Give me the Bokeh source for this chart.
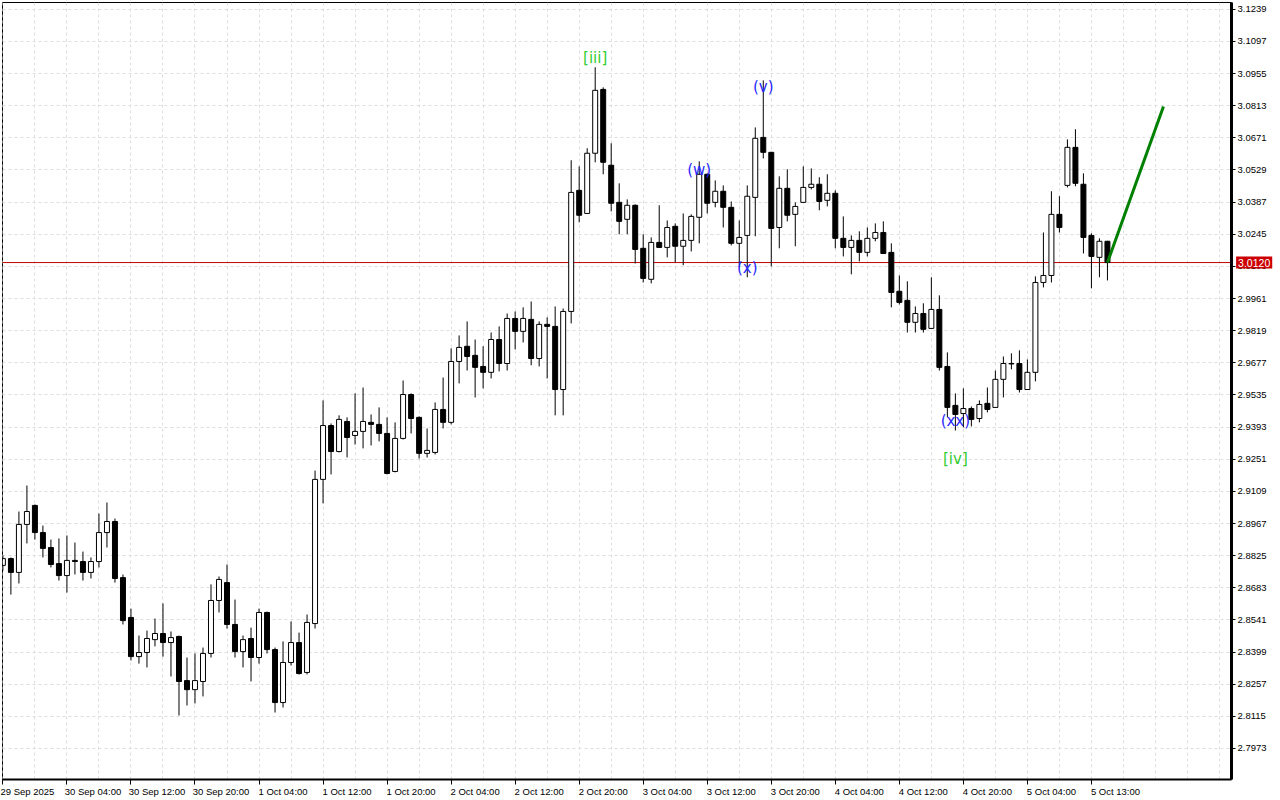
from bokeh.plotting import figure
from bokeh.models import (Range1d, FixedTicker, PrintfTickFormatter,
                          Span, ColumnDataSource)
from bokeh.core.properties import value
from bokeh.embed import file_html
from bokeh.resources import INLINE

# ---------------- data (hourly candles) ----------------
opens = [
    2.8782, 2.8812, 2.8751, 2.8963, 2.9047, 2.8927, 2.8861, 2.8790, 2.8737, 2.8804,
    2.8799, 2.8751, 2.8799, 2.8927, 2.8976, 2.8728, 2.8552, 2.8379, 2.8397, 2.8454,
    2.8481, 2.8441, 2.8468, 2.8273, 2.8233, 2.8269, 2.8393, 2.8627, 2.8706, 2.8521,
    2.8401, 2.8459, 2.8375, 2.8574, 2.8410, 2.8176, 2.8353, 2.8441, 2.8309, 2.8525,
    2.9162, 2.9400, 2.9285, 2.9418, 2.9356, 2.9374, 2.9414, 2.9405, 2.9365, 2.9197,
    2.9343, 2.9537, 2.9436, 2.9277, 2.9281, 2.9471, 2.9414, 2.9683, 2.9750, 2.9710,
    2.9661, 2.9635, 2.9780, 2.9674, 2.9873, 2.9816, 2.9869, 2.9696, 2.9847, 2.9838,
    2.9559, 2.9904, 3.0439, 3.0337, 3.0603, 3.0885, 3.0550, 3.0386, 3.0311, 3.0373,
    3.0183, 3.0046, 3.0209, 3.0187, 3.0280, 3.0192, 3.0218, 3.0320, 3.0510, 3.0386,
    3.0435, 3.0364, 3.0205, 3.0240, 3.0408, 3.0673, 3.0607, 3.0275, 3.0448, 3.0333,
    3.0386, 3.0452, 3.0466, 3.0395, 3.0426, 3.0227, 3.0187, 3.0218, 3.0165, 3.0227,
    3.0253, 3.0165, 2.9993, 2.9953, 2.9856, 2.9895, 2.9829, 2.9913, 2.9661, 2.9489,
    2.9453, 2.9475, 2.9431, 2.9498, 2.9480, 2.9604, 2.9674, 2.9674, 2.9559, 2.9635,
    3.0032, 3.0063, 3.0333, 3.0461, 3.0629, 3.0466, 3.0240, 3.0143, 3.0214,
]
highs = [
    2.8826, 2.8817, 2.9020, 2.9135, 2.9051, 2.8958, 2.8896, 2.8901, 2.8914, 2.8883,
    2.8843, 2.8817, 2.9011, 2.9060, 2.8989, 2.8742, 2.8591, 2.8472, 2.8494, 2.8547,
    2.8614, 2.8490, 2.8472, 2.8375, 2.8393, 2.8419, 2.8698, 2.8733, 2.8786, 2.8631,
    2.8472, 2.8507, 2.8591, 2.8578, 2.8419, 2.8446, 2.8534, 2.8485, 2.8565, 2.9201,
    2.9511, 2.9409, 2.9445, 2.9436, 2.9542, 2.9568, 2.9449, 2.9480, 2.9436, 2.9414,
    2.9599, 2.9542, 2.9440, 2.9387, 2.9502, 2.9612, 2.9741, 2.9798, 2.9860, 2.9780,
    2.9750, 2.9811, 2.9838, 2.9895, 2.9904, 2.9922, 2.9948, 2.9860, 2.9878, 2.9926,
    2.9917, 3.0572, 3.0545, 3.0625, 3.0983, 3.0894, 3.0647, 3.0470, 3.0399, 3.0377,
    3.0245, 3.0231, 3.0373, 3.0306, 3.0293, 3.0337, 3.0333, 3.0567, 3.0514, 3.0483,
    3.0461, 3.0390, 3.0306, 3.0461, 3.0717, 3.0925, 3.0609, 3.0501, 3.0532, 3.0386,
    3.0545, 3.0536, 3.0497, 3.0510, 3.0439, 3.0324, 3.0240, 3.0258, 3.0275, 3.0293,
    3.0302, 3.0205, 3.0063, 3.0037, 2.9926, 2.9940, 3.0055, 2.9975, 2.9723, 2.9542,
    2.9564, 2.9484, 2.9511, 2.9568, 2.9643, 2.9705, 2.9719, 2.9732, 2.9692, 3.0059,
    3.0253, 3.0435, 3.0413, 3.0664, 3.0709, 3.0514, 3.0249, 3.0227, 3.0216,
]
lows = [
    2.8759, 2.8653, 2.8702, 2.8879, 2.8896, 2.8817, 2.8773, 2.8715, 2.8662, 2.8742,
    2.8715, 2.8724, 2.8773, 2.8861, 2.8706, 2.8521, 2.8362, 2.8348, 2.8331, 2.8424,
    2.8379, 2.8291, 2.8119, 2.8163, 2.8172, 2.8203, 2.8375, 2.8574, 2.8503, 2.8375,
    2.8331, 2.8269, 2.8348, 2.8393, 2.8132, 2.8154, 2.8340, 2.8300, 2.8300, 2.8503,
    2.9056, 2.9184, 2.9281, 2.9259, 2.9316, 2.9299, 2.9312, 2.9330, 2.9184, 2.9193,
    2.9338, 2.9365, 2.9254, 2.9259, 2.9272, 2.9387, 2.9405, 2.9586, 2.9643, 2.9524,
    2.9564, 2.9608, 2.9639, 2.9643, 2.9736, 2.9767, 2.9666, 2.9661, 2.9608, 2.9445,
    2.9445, 2.9851, 3.0298, 3.0335, 3.0563, 3.0510, 3.0346, 3.0245, 3.0245, 3.0116,
    3.0032, 3.0028, 3.0185, 3.0143, 3.0121, 3.0108, 3.0169, 3.0205, 3.0337, 3.0364,
    3.0275, 3.0196, 3.0099, 3.0055, 3.0236, 3.0580, 3.0103, 3.0183, 3.0302, 3.0192,
    3.0384, 3.0443, 3.0351, 3.0368, 3.0183, 3.0147, 3.0068, 3.0125, 3.0147, 3.0214,
    3.0158, 2.9922, 2.9935, 2.9811, 2.9811, 2.9811, 2.9827, 2.9643, 2.9436, 2.9378,
    2.9392, 2.9396, 2.9414, 2.9458, 2.9478, 2.9524, 2.9648, 2.9546, 2.9557, 2.9595,
    3.0010, 3.0032, 3.0253, 3.0452, 3.0457, 3.0160, 3.0006, 3.0055, 3.0041,
]
closes = [
    2.8812, 2.8751, 2.8963, 2.9020, 2.8927, 2.8857, 2.8786, 2.8737, 2.8804, 2.8799,
    2.8751, 2.8799, 2.8927, 2.8976, 2.8724, 2.8538, 2.8379, 2.8397, 2.8459, 2.8481,
    2.8441, 2.8463, 2.8269, 2.8233, 2.8273, 2.8393, 2.8627, 2.8720, 2.8521, 2.8401,
    2.8454, 2.8375, 2.8574, 2.8410, 2.8176, 2.8353, 2.8441, 2.8304, 2.8530, 2.9162,
    2.9400, 2.9285, 2.9427, 2.9347, 2.9374, 2.9418, 2.9405, 2.9365, 2.9188, 2.9343,
    2.9537, 2.9431, 2.9277, 2.9290, 2.9471, 2.9414, 2.9683, 2.9745, 2.9705, 2.9657,
    2.9635, 2.9780, 2.9674, 2.9873, 2.9816, 2.9873, 2.9696, 2.9847, 2.9838, 2.9559,
    2.9904, 3.0430, 3.0329, 3.0603, 3.0881, 3.0563, 3.0382, 3.0302, 3.0373, 3.0178,
    3.0050, 3.0209, 3.0187, 3.0275, 3.0192, 3.0218, 3.0324, 3.0510, 3.0382, 3.0435,
    3.0364, 3.0205, 3.0231, 3.0413, 3.0669, 3.0607, 3.0271, 3.0448, 3.0329, 3.0368,
    3.0452, 3.0466, 3.0390, 3.0426, 3.0227, 3.0187, 3.0218, 3.0165, 3.0227, 3.0253,
    3.0160, 2.9988, 2.9944, 2.9856, 2.9895, 2.9825, 2.9913, 2.9657, 2.9480, 2.9449,
    2.9475, 2.9427, 2.9493, 2.9471, 2.9604, 2.9674, 2.9672, 2.9559, 2.9635, 3.0032,
    3.0063, 3.0333, 3.0275, 3.0629, 3.0470, 3.0231, 3.0147, 3.0214, 3.0120,
]

time_labels = ["29 Sep 2025", "30 Sep 04:00", "30 Sep 12:00", "30 Sep 20:00",
               "1 Oct 04:00", "1 Oct 12:00", "1 Oct 20:00", "2 Oct 04:00",
               "2 Oct 12:00", "2 Oct 20:00", "3 Oct 04:00", "3 Oct 12:00",
               "3 Oct 20:00", "4 Oct 04:00", "4 Oct 12:00", "4 Oct 20:00",
               "5 Oct 04:00", "5 Oct 13:00"]
time_label_bars = [0, 8, 16, 24, 32, 40, 48, 56, 64, 72, 80, 88, 96, 104, 112, 120, 128, 136]

price_ticks = [3.1239, 3.1097, 3.0955, 3.0813, 3.0671, 3.0529, 3.0387, 3.0245,
               3.0103, 2.9961, 2.9819, 2.9677, 2.9535, 2.9393, 2.9251, 2.9109,
               2.8967, 2.8825, 2.8683, 2.8541, 2.8399, 2.8257, 2.8115, 2.7973]

# Elliott-wave marks: label, bar, anchored at the bar's high or low
wave_labels = ["[iii]", "(v)", "(w)", "(x)", "(xx)", "[iv]"]
wave_bars = [74, 95, 87, 93, 119, 119]
wave_anchor = ["high", "high", "high", "low", "low", "low"]

# forecast arrow (bar index, price)
forecast_bars = [138, 145]
forecast_prices = [3.0120, 3.0810]

# ---------------- figure ----------------
FONT = "Liberation Sans"
X_END = 153.5
n = len(opens)
idx = list(range(n))

src = ColumnDataSource(dict(
    x=idx, high=highs, low=lows,
    top=[max(o, c) for o, c in zip(opens, closes)],
    bottom=[min(o, c) for o, c in zip(opens, closes)],
    fill=["white" if c > o else "black" for o, c in zip(opens, closes)],
))

p = figure(width=1280, height=800, output_backend="svg", toolbar_location=None,
           x_range=Range1d(-0.05, X_END), y_range=Range1d(2.7836, 3.1269),
           y_axis_location="right", x_axis_location="below",
           min_border_left=2, min_border_top=2, min_border_right=49, min_border_bottom=21,
           background_fill_color="white", border_fill_color="white")
p.outline_line_color = "black"
p.outline_line_width = 1

# grid
p.ygrid.ticker = FixedTicker(ticks=price_ticks)
p.xgrid.ticker = FixedTicker(ticks=list(range(0, 154, 4)))
for g in (p.xgrid, p.ygrid):
    g.grid_line_color = "#dedede"
    g.grid_line_dash = "3 3"
    g.grid_line_width = 1

# right price axis
ya = p.yaxis[0]
ya.ticker = FixedTicker(ticks=price_ticks)
ya.formatter = PrintfTickFormatter(format="%.4f")
ya.axis_line_color = "black"
ya.axis_line_width = 3
ya.major_tick_out = 4
ya.major_tick_in = 0
ya.minor_tick_line_color = None
ya.major_label_standoff = 2
ya.major_label_text_font = FONT
ya.major_label_text_font_size = "9.5px"
ya.major_label_text_color = "black"

# bottom time axis: labels left-aligned at their tick (MetaTrader style);
# the tick marks themselves are drawn as the axis' minor ticks at the label bars
label_pos = [b + round(len(t) * 4.4 / 2 / 8.0 * 4) / 4 for b, t in zip(time_label_bars, time_labels)]
xa = p.xaxis[0]
xa.ticker = FixedTicker(ticks=label_pos, minor_ticks=time_label_bars)
xa.major_label_overrides = {pos: t for pos, t in zip(label_pos, time_labels)}
xa.axis_line_color = "black"
xa.axis_line_width = 2
xa.major_tick_line_color = None
xa.major_tick_out = 0
xa.major_tick_in = 0
xa.minor_tick_line_color = "black"
xa.minor_tick_out = 5
xa.minor_tick_in = 0
xa.major_label_standoff = 1
xa.major_label_text_font = FONT
xa.major_label_text_font_size = "9.5px"
xa.major_label_text_color = "black"

# current price line
p.add_layout(Span(location=closes[-1], dimension="width", line_color="#c00000",
                  line_width=1, level="underlay"))

# candles
p.segment(x0="x", y0="low", x1="x", y1="high", source=src, line_color="black", line_width=1)
p.vbar(x="x", top="top", bottom="bottom", width=0.62, source=src,
       fill_color="fill", line_color="black", line_width=1)

# forecast line
p.line(forecast_bars, forecast_prices, line_color="#008000", line_width=3)

# wave labels
wave_offsets = {"[iii]": -9, "(v)": 7, "(w)": 9, "(x)": -9, "(xx)": -9, "[iv]": 29}
wave_colors = {"[iii]": "#32cd32", "[iv]": "#32cd32"}
wsrc = ColumnDataSource(dict(
    x=wave_bars,
    y=[highs[b] if a == "high" else lows[b] for b, a in zip(wave_bars, wave_anchor)],
    text=wave_labels,
    yoff=[wave_offsets[t] for t in wave_labels],
    color=[wave_colors.get(t, "#2828ff") for t in wave_labels],
))
p.text(x="x", y="y", text="text", y_offset="yoff", source=wsrc, text_color="color",
       text_font=value("DejaVu Sans"), text_font_size="15px",
       text_align="center", text_baseline="middle")

# price tag over the axis: a text glyph on the overlay level (not clipped to the frame)
p.text(x=[X_END - 0.05], y=[closes[-1]], text=[f"{closes[-1]:.4f}"], x_offset=5,
       text_color="white", text_font=value(FONT), text_font_size="10.5px",
       text_align="left", text_baseline="middle",
       background_fill_color="#cc0000", padding=2, level="overlay")

open("out.html", "w").write(file_html(p, INLINE))
